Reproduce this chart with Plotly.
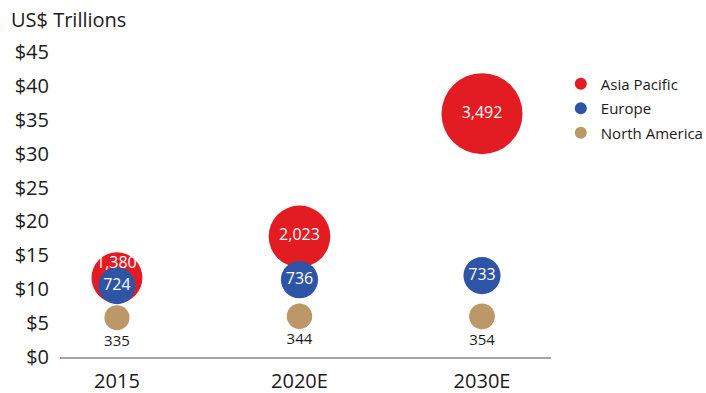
import plotly.graph_objects as go

years = ["2015", "2020E", "2030E"]
regions = ["Asia Pacific", "Europe", "North America"]
spending = {
    "Asia Pacific": [11.7, 17.8, 35.9],
    "Europe": [10.5, 11.4, 12.0],
    "North America": [5.8, 6.0, 6.0],
}
population = {
    "Asia Pacific": [1380, 2023, 3492],
    "Europe": [724, 736, 733],
    "North America": [335, 344, 354],
}
labels = {
    "Asia Pacific": ["1,380", "2,023", "3,492"],
    "Europe": ["724", "736", "733"],
    "North America": ["335", "344", "354"],
}
colors = {"Asia Pacific": "#E31B23", "Europe": "#2E54A6", "North America": "#BC9868"}
ytick_vals = [0, 5, 10, 15, 20, 25, 30, 35, 40, 45]
ytick_text = ["$0", "$5", "$10", "$15", "$20", "$25", "$30", "$35", "$40", "$45"]

FONT = "Open Sans"
sizeref = 2 * max(population["Asia Pacific"]) / (81 ** 2)

fig = go.Figure()
for r in regions:
    if r == "Asia Pacific":
        txt = ["", labels[r][1], labels[r][2]]
        pos = "middle center"
        tfont = dict(family=FONT, size=16, color="white")
    elif r == "Europe":
        txt = labels[r]
        pos = "middle center"
        tfont = dict(family=FONT, size=16, color="white")
    else:
        txt = labels[r]
        pos = "bottom center"
        tfont = dict(family=FONT, size=15, color="#1a1a1a")
    fig.add_trace(go.Scatter(
        x=years, y=spending[r], mode="markers+text", name=r,
        legendgroup=r,
        text=txt, textposition=pos, textfont=tfont,
        marker=dict(size=population[r], sizemode="area", sizeref=sizeref,
                    color=colors[r], line=dict(width=0), opacity=1),
        cliponaxis=False, hoverinfo="skip",
    ))

# label of the partially covered 2015 Asia Pacific bubble
fig.add_annotation(x=years.index("2015"), y=spending["Asia Pacific"][0],
                   text=labels["Asia Pacific"][0],
                   showarrow=False, yshift=16, xref="x", yref="y",
                   font=dict(family=FONT, size=16, color="white"))

fig.add_annotation(x=-0.104, y=1.105, xref="paper", yref="paper", text="US$ Trillions",
                   showarrow=False, xanchor="left", yanchor="middle",
                   font=dict(family=FONT, size=20, color="#1a1a1a"))

fig.update_layout(
    width=706, height=393,
    margin=dict(l=60, r=155, t=52, b=36, autoexpand=False),
    paper_bgcolor="white", plot_bgcolor="white",
    font=dict(family=FONT, color="#1a1a1a"),
    showlegend=True,
    legend=dict(x=1.02, y=0.949, xanchor="left", yanchor="top",
                font=dict(family=FONT, size=15, color="#1a1a1a"),
                itemsizing="constant", tracegroupgap=2, itemwidth=30,
                bgcolor="rgba(0,0,0,0)"),
    xaxis=dict(type="category", range=[-0.312, 2.378], showgrid=False, zeroline=False,
               showline=True, linecolor="#a6a6a6", linewidth=1.5,
               ticks="outside", ticklen=5, tickcolor="rgba(0,0,0,0)",
               tickfont=dict(family=FONT, size=20, color="#1a1a1a")),
    yaxis=dict(range=[0, 45], tickvals=ytick_vals, ticktext=ytick_text, showgrid=False,
               zeroline=False, showline=False, ticks="outside", ticklen=6,
               tickcolor="rgba(0,0,0,0)",
               tickfont=dict(family=FONT, size=20, color="#1a1a1a")),
)

fig.write_html("out.html")
